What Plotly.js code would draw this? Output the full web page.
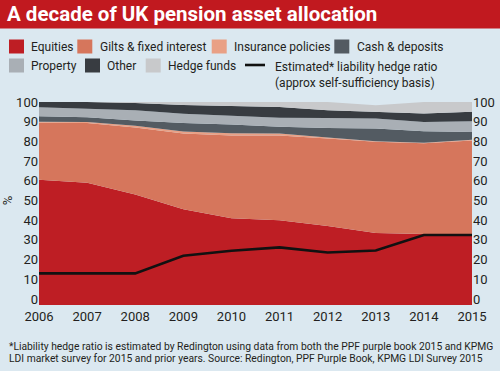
<!DOCTYPE html>
<html><head><meta charset="utf-8">
<script src="https://cdn.plot.ly/plotly-3.0.1.min.js"></script>
<style>html,body{margin:0;padding:0;background:#dbe8f0}#chart{width:500px;height:371px}</style>
</head><body><div id="chart"></div>
<script>
// ---- data ----
const years = [2006, 2007, 2008, 2009, 2010, 2011, 2012, 2013, 2014, 2015];
const equities   = [60.5, 59.0, 53.0, 45.5, 41.0, 40.0, 37.0, 33.5, 33.0, 32.5];
const gilts      = [29.0, 30.3, 34.0, 38.5, 42.0, 43.0, 44.5, 46.3, 46.0, 48.0];
const insurance  = [0.5, 0.6, 0.9, 1.0, 1.2, 1.0, 0.5, 0.3, 0.3, 0.3];
const cash       = [2.8, 2.4, 2.7, 4.3, 4.4, 3.5, 4.8, 6.4, 5.9, 4.0];
const property   = [4.5, 4.4, 5.2, 4.7, 4.3, 4.5, 5.1, 5.1, 4.7, 5.4];
const other      = [2.7, 3.3, 3.7, 4.5, 5.1, 5.5, 3.9, 3.4, 4.2, 4.8];
const hedgeFunds = [0.0, 0.0, 0.3, 1.5, 2.0, 2.7, 4.2, 3.3, 5.9, 5.3];
const hedgeRatio = [13.0, 13.0, 13.0, 22.0, 24.5, 26.2, 23.6, 24.6, 32.5, 32.5];
const yTicks = [0, 10, 20, 30, 40, 50, 60, 70, 80, 90, 100];

const seriesNames = ['Equities', 'Gilts & fixed interest', 'Insurance policies', 'Cash & deposits',
                     'Property', 'Other', 'Hedge funds'];
const lineName = 'Estimated* liability hedge ratio<br>(approx self-sufficiency basis)';
const titleText = 'A decade of UK pension asset allocation';
const footnote1 = '*Liability hedge ratio is estimated by Redington using data from both the PPF purple book 2015 and KPMG';
const footnote2 = 'LDI market survey for 2015 and prior years. Source: Redington, PPF Purple Book, KPMG LDI Survey 2015';

// ---- styles ----
const colors = ['#be1e24', '#d6765c', '#e9a085', '#535b62', '#a9afb5', '#383c41', '#c8c9cb'];
const BG = '#dbe8f0', TXT = '#231f20', FONT = 'Roboto, "Liberation Sans", sans-serif';
const W = 500, H = 371, ML = 39, MR = 28, MT = 102, MB = 72;
const PW = W - ML - MR, PH = H - MT - MB, PBOT = H - MB;
const px = x => (x - ML) / PW;
const py = y => (PBOT - y) / PH;

const allSeries = [equities, gilts, insurance, cash, property, other, hedgeFunds];
const traces = allSeries.map((vals, i) => ({
  type: 'scatter', x: years, y: vals, name: seriesNames[i],
  stackgroup: 'assets', mode: 'lines', line: {width: 0, color: colors[i]},
  fillcolor: colors[i], hoverinfo: 'skip', showlegend: false
}));
traces.push({
  type: 'scatter', x: years, y: hedgeRatio, name: lineName, yaxis: 'y2',
  mode: 'lines', line: {color: '#111111', width: 2.6}, hoverinfo: 'skip', showlegend: false
});

// ---- hand-built legend + header/footer ----
const shapes = [{
  type: 'rect', xref: 'paper', yref: 'paper', x0: px(0), x1: px(W), y0: py(28.5), y1: py(0),
  fillcolor: '#c1191f', line: {width: 0}, layer: 'below'
}];
const annotations = [];
const legendItems = [
  [0, 9, 46.5], [1, 77.3, 46.5], [2, 211.7, 46.5], [3, 334.3, 46.5],
  [4, 9, 65.5], [5, 85, 65.5], [6, 145.7, 65.5]
];
legendItems.forEach(([i, x, yc]) => {
  shapes.push({type: 'rect', xref: 'paper', yref: 'paper', x0: px(x), x1: px(x + 15),
    y0: py(yc + 7), y1: py(yc - 7), fillcolor: colors[i], line: {width: 0}});
  annotations.push({xref: 'paper', yref: 'paper', x: px(x + 20.3), y: py(yc), xanchor: 'left', yanchor: 'middle',
    text: seriesNames[i], showarrow: false, font: {family: FONT, size: 12, color: TXT}});
});
shapes.push({type: 'line', xref: 'paper', yref: 'paper', x0: px(245), x1: px(265), y0: py(65), y1: py(65),
  line: {color: '#111111', width: 2.6}});
annotations.push({xref: 'paper', yref: 'paper', x: px(272.7), y: py(58), xanchor: 'left', yanchor: 'top',
  align: 'left', text: lineName, showarrow: false, font: {family: FONT, size: 12, color: TXT}});
annotations.push({xref: 'paper', yref: 'paper', x: px(6.5), y: py(346), xanchor: 'left', yanchor: 'middle',
  text: footnote1, showarrow: false, font: {family: FONT, size: 10.3, color: TXT}});
annotations.push({xref: 'paper', yref: 'paper', x: px(6.5), y: py(358.5), xanchor: 'left', yanchor: 'middle',
  text: footnote2, showarrow: false, font: {family: FONT, size: 10.3, color: TXT}});

const tickFont = {family: FONT, size: 13, color: TXT};
const layout = {
  width: W, height: H,
  margin: {l: ML, r: MR, t: MT, b: MB, pad: 0},
  paper_bgcolor: BG, plot_bgcolor: 'rgba(0,0,0,0)',
  title: {text: '<b>' + titleText + '</b>', xref: 'container', yref: 'container',
    x: 7 / W, xanchor: 'left', y: 1 - 14 / H, yanchor: 'middle',
    font: {family: FONT, size: 20.5, color: '#ffffff'}},
  xaxis: {type: 'linear', range: [years[0], years[years.length - 1]], tickvals: years,
    ticktext: years.map(String), showgrid: false, zeroline: false, ticks: '',
    showline: true, linecolor: colors[0], linewidth: 6, tickfont: tickFont, fixedrange: true},
  yaxis: {range: [0, 100], tickvals: yTicks, showgrid: false, zeroline: false, ticks: '',
    showline: false, tickfont: tickFont, fixedrange: true,
    title: {text: '%', font: tickFont, standoff: 3}},
  yaxis2: {range: [0, 100], tickvals: yTicks, overlaying: 'y', side: 'right', showgrid: false,
    zeroline: false, ticks: '', showline: false, tickfont: tickFont, fixedrange: true},
  shapes: shapes, annotations: annotations, showlegend: false
};
Plotly.newPlot('chart', traces, layout, {displayModeBar: false, staticPlot: true});
</script></body></html>
